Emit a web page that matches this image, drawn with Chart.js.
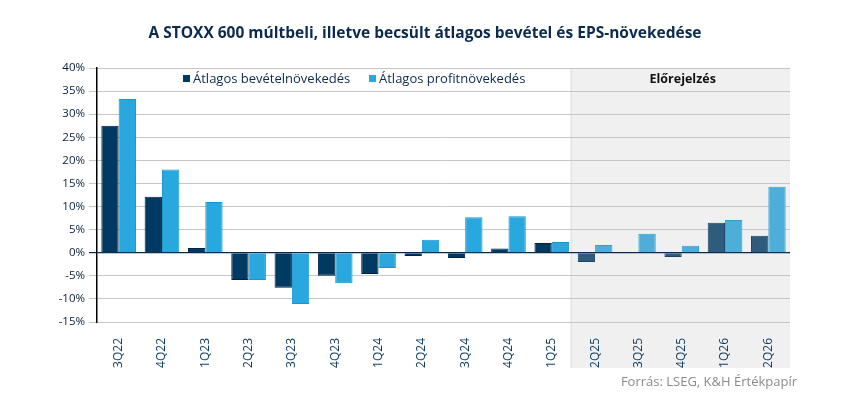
<!DOCTYPE html>
<html>
<head>
<meta charset="utf-8">
<script src="https://cdn.jsdelivr.net/npm/chart.js@4.4.1/dist/chart.umd.min.js"></script>
<style>
html,body{margin:0;padding:0;background:#fff;}
#wrap{width:850px;height:398px;}
</style>
</head>
<body>
<div id="wrap"><canvas id="c" width="850" height="398"></canvas></div>
<script>
const categories = ['3Q22','4Q22','1Q23','2Q23','3Q23','4Q23','1Q24','2Q24','3Q24','4Q24','1Q25','2Q25','3Q25','4Q25','1Q26','2Q26'];
const revenueGrowth = [27.5, 12.1, 1.0, -5.9, -7.6, -5.0, -4.6, -0.7, -1.15, 0.9, 2.1, -2.0, 0.0, -0.9, 6.5, 3.7];
const profitGrowth  = [33.3, 18.0, 11.0, -5.9, -11.1, -6.6, -3.3, 2.8, 7.7, 7.9, 2.3, 1.7, 4.1, 1.5, 7.1, 14.3];
const yTicks = [-15, -10, -5, 0, 5, 10, 15, 20, 25, 30, 35, 40];
const seriesNames = ['Átlagos bevételnövekedés', 'Átlagos profitnövekedés'];
const forecastFrom = '2Q25';
const titleText = 'A STOXX 600 múltbeli, illetve becsült átlagos bevétel és EPS-növekedése';
const forecastText = 'Előrejelzés';
const sourceText = 'Forrás: LSEG, K&H Értékpapír';

const fIdx = categories.indexOf(forecastFrom);
const FONT = "'Open Sans', 'DejaVu Sans', sans-serif";
const colorsFor = (hist, fc) => categories.map((c, i) => i >= fIdx ? fc : hist);

const overlay = {
  id: 'overlay',
  beforeDraw(chart) {
    const {ctx, chartArea, scales} = chart;
    const x = scales.x;
    const left = (x.getPixelForValue(fIdx - 1) + x.getPixelForValue(fIdx)) / 2 - 2;
    ctx.save();
    ctx.fillStyle = '#f0f0f0';
    ctx.fillRect(left, chartArea.top, chartArea.right - left, chartArea.bottom - chartArea.top + 46);
    ctx.fillStyle = '#e4e4e4';
    ctx.fillRect(left - 1, chartArea.top, 1.5, chartArea.bottom - chartArea.top + 46);
    ctx.restore();
  },
  afterDraw(chart) {
    const {ctx, chartArea, scales} = chart;
    const x = scales.x;
    const left = (x.getPixelForValue(fIdx - 1) + x.getPixelForValue(fIdx)) / 2 - 2;
    ctx.save();
    // title
    ctx.fillStyle = '#0b2a4e';
    ctx.font = "bold 15.5px " + FONT;
    ctx.textAlign = 'center';
    ctx.textBaseline = 'middle';
    ctx.fillText(titleText, 425, 34);
    // forecast label
    ctx.fillStyle = '#111';
    ctx.font = "bold 12.5px " + FONT;
    ctx.fillText(forecastText, (left + chartArea.right) / 2 + 2, 79);
    // legend
    ctx.font = "13px " + FONT;
    ctx.textAlign = 'left';
    const legendX = [183, 369];
    chart.data.datasets.forEach((ds, i) => {
      ctx.fillStyle = ds.legendColor;
      ctx.fillRect(legendX[i], 75, 7, 7);
      ctx.fillStyle = '#0b2a4e';
      ctx.fillText(ds.label, legendX[i] + 10, 79);
    });
    // source
    ctx.fillStyle = '#8a8a8a';
    ctx.font = "13px " + FONT;
    ctx.textAlign = 'right';
    ctx.fillText(sourceText, 797, 382);
    ctx.restore();
  }
};

new Chart(document.getElementById('c'), {
  type: 'bar',
  data: {
    labels: categories,
    datasets: [
      {
        label: seriesNames[0],
        data: revenueGrowth,
        legendColor: '#003a63',
        backgroundColor: colorsFor('#003a63', '#2f5b7c'),
        borderColor: colorsFor('#00223f', '#1d4464'),
        borderWidth: 1,
        categoryPercentage: 0.8,
        barPercentage: 1.0
      },
      {
        label: seriesNames[1],
        data: profitGrowth,
        legendColor: '#29a8e0',
        backgroundColor: colorsFor('#29a8e0', '#4daed9'),
        borderColor: colorsFor('#1896d2', '#2aa0d6'),
        borderWidth: 1,
        categoryPercentage: 0.8,
        barPercentage: 1.0
      }
    ]
  },
  options: {
    responsive: false,
    animation: false,
    devicePixelRatio: 1,
    layout: { padding: { left: 0, right: 60, top: 68, bottom: 26 } },
    plugins: { legend: { display: false }, tooltip: { enabled: false }, title: { display: false } },
    scales: {
      x: {
        grid: { display: false },
        border: { display: false },
        ticks: {
          color: '#0b3a5e',
          font: { family: FONT, size: 12 },
          minRotation: 90, maxRotation: 90,
          padding: 8,
          autoSkip: false
        },
        afterFit(s) { s.height = 50; }
      },
      y: {
        min: -15, max: 40,
        afterBuildTicks(s) { s.ticks = yTicks.map(v => ({ value: v })); },
        ticks: {
          color: '#0b1f3a',
          font: { family: FONT, size: 11.5 },
          padding: 4,
          callback: v => v + '%'
        },
        grid: {
          color: c => c.tick && c.tick.value === 0 ? '#0b2a4e' : '#c6c6c6',
          lineWidth: c => c.tick && c.tick.value === 0 ? 1.2 : 1,
          tickLength: 8,
          drawTicks: true
        },
        border: { display: true, color: '#000', width: 1.5 },
        afterFit(s) { s.width = 97; }
      }
    }
  },
  plugins: [overlay]
});
</script>
</body>
</html>
